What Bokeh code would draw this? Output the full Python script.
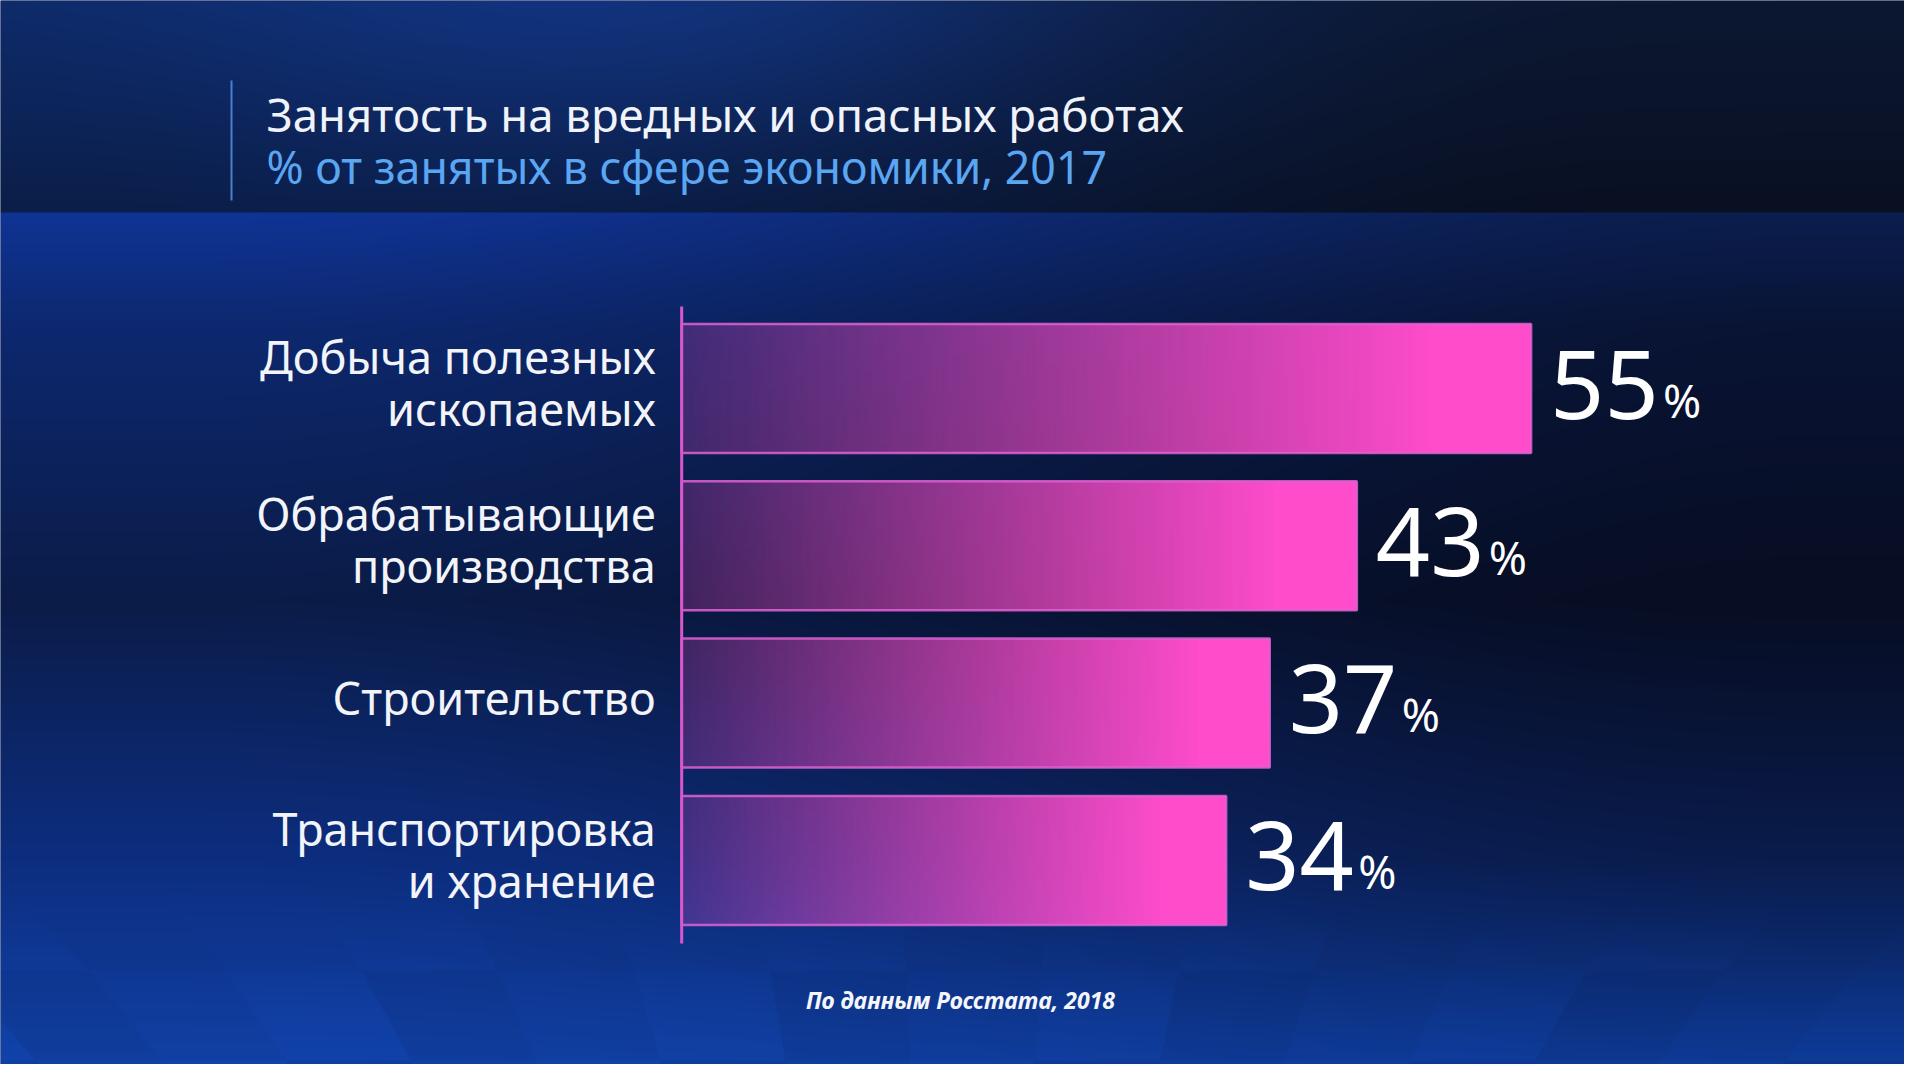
import numpy as np
from bokeh.plotting import figure
from bokeh.models import Range1d
from bokeh.core.properties import value
from bokeh.embed import file_html
from bokeh.resources import INLINE

# ---------------- data ----------------
categories = ["Добыча полезных\nископаемых",
              "Обрабатывающие\nпроизводства",
              "Строительство",
              "Транспортировка\nи хранение"]
values = [55, 43, 37, 34]
value_labels = ["55", "43", "37", "34"]
unit_labels = ["%", "%", "%", "%"]
title_text = "Занятость на вредных и опасных работах"
subtitle_text = "% от занятых в сфере экономики, 2017"
source_text = "По данным Росстата, 2018"

# ---------------- layout ----------------
W, H = 1904, 1064
OFF = 0.0
X0, XS = 732.0, 14.52      # reference px of value 0, px per percent
Y0, YS = 388.0, 157.3      # reference px of first row centre, px per row
BAR_BASE = -3.5            # bars start a little left of zero (as in the original)
BAR_H = 0.82
FONT = value("Noto Sans")


def dx(X):
    return (X - X0) / XS


def dy(Y):
    return (Y0 - Y) / YS


x_start, x_end = dx(OFF), dx(OFF + W)
y_start, y_end = dy(OFF + H), dy(OFF)
ypos = [-i for i in range(len(categories))]

p = figure(width=W, height=H, output_backend="svg", toolbar_location=None,
           x_range=Range1d(x_start, x_end), y_range=Range1d(y_start, y_end),
           x_axis_type=None, y_axis_type=None, min_border=0,
           outline_line_color=None, background_fill_color="#0b1a45",
           border_fill_color="#0b1a45")
p.grid.visible = False

# ---------------- background ----------------
nx, ny = W // 2, H // 2
Xs = OFF + (np.arange(nx) + 0.5) * W / nx
Ys = OFF + (np.arange(ny) + 0.5) * H / ny
XX, YY = np.meshgrid(Xs, Ys)


def smooth(t):
    t = np.clip(t, 0, 1)
    return t * t * (3 - 2 * t)


tx = smooth((XX / 1920 - 0.15) / 0.7)[..., None]
ty = np.clip(YY / 212, 0, 1)[..., None]
L0 = np.array([14, 42, 104.]); L1 = np.array([11, 30, 72.])
R0 = np.array([12, 24, 50.]); R1 = np.array([9, 16, 34.])
left = L0 + (L1 - L0) * ty
right = R0 + (R1 - R0) * ty
head = left + (right - left) * tx
spot = np.exp(-((XX - 700) / 450) ** 2 - (YY / 160) ** 2)[..., None]
head = head + spot * np.array([4, 12, 30.])

Yk = [212, 330, 600, 860, 1080]
lc = np.array([[16, 52, 150], [13, 40, 110], [11, 28, 72], [13, 46, 128], [17, 66, 168]], float)
rc = np.array([[11, 30, 78], [9, 20, 52], [7, 13, 34], [10, 28, 76], [14, 60, 155]], float)
low_l = np.stack([np.interp(YY, Yk, lc[:, c]) for c in range(3)], axis=-1)
low_r = np.stack([np.interp(YY, Yk, rc[:, c]) for c in range(3)], axis=-1)
tl = smooth((XX / 1920 - 0.1) / 0.85)[..., None]
low = low_l + (low_r - low_l) * tl

# very faint "floor" columns near the bottom
floor = smooth((YY - 880) / 140)
persp = (XX - 960) * (1 + (YY - 880) / 900)
cols = np.floor((persp + 960) / 150)
rows = np.floor((YY - 880) / 90)
tile = (((cols + rows) % 3) - 1)
low = low * (1 + 0.035 * (tile * floor))[..., None]

rgb = np.where((YY < 212)[..., None], head, low)
rgb = np.clip(rgb, 0, 255).astype(np.uint8)[::-1]
bg = np.empty((ny, nx), dtype=np.uint32)
v = bg.view(dtype=np.uint8).reshape((ny, nx, 4))
v[..., :3] = rgb
v[..., 3] = 255
p.image_rgba(image=[bg], x=x_start, y=y_start, dw=x_end - x_start, dh=y_end - y_start)


# ---------------- bars ----------------
def bar_gradient(n=256):
    img = np.empty((1, n), dtype=np.uint32)
    vv = img.view(dtype=np.uint8).reshape((1, n, 4))
    t = np.linspace(0, 1, n)
    vv[0, :, 0] = 255
    vv[0, :, 1] = 76
    vv[0, :, 2] = 203
    vv[0, :, 3] = (np.clip(0.22 + 0.88 * t, 0, 1) * 255).astype(np.uint8)
    return img


p.image_rgba(image=[bar_gradient() for _ in values],
             x=[BAR_BASE] * len(values),
             y=[y - BAR_H / 2 for y in ypos],
             dw=[val - BAR_BASE for val in values],
             dh=[BAR_H] * len(values))
p.quad(left=[BAR_BASE] * len(values), right=values,
       top=[y + BAR_H / 2 for y in ypos], bottom=[y - BAR_H / 2 for y in ypos],
       fill_alpha=0, line_color="#e062d4", line_width=2.5, line_alpha=0.85)

# axis line
p.segment(x0=[BAR_BASE], y0=[dy(306)], x1=[BAR_BASE], y1=[dy(943)],
          line_color="#d858cc", line_width=3)

# category labels
p.text(x=[BAR_BASE] * len(categories), y=ypos, text=categories,
       x_offset=-26, y_offset=-6, text_align="right", text_baseline="middle",
       text_font=FONT, text_font_size="45px", text_color="#f2f4fa",
       text_line_height=0.85)

# value labels
p.text(x=values, y=ypos, text=value_labels, x_offset=19, y_offset=-4,
       text_align="left", text_baseline="middle",
       text_font=FONT, text_font_size="95px", text_color="#ffffff")
p.text(x=values, y=ypos, text=unit_labels, x_offset=132, y_offset=11,
       text_align="left", text_baseline="middle",
       text_font=FONT, text_font_size="46px", text_color="#ffffff")

# header
p.segment(x0=[dx(231)], y0=[dy(80)], x1=[dx(231)], y1=[dy(200)],
          line_color="#4a7fcf", line_width=2)
p.text(x=[dx(266)], y=[dy(113)], text=[title_text], text_align="left",
       text_baseline="middle", text_font=FONT, text_font_size="45.5px",
       text_color="#f0f3fa")
p.text(x=[dx(266)], y=[dy(166)], text=[subtitle_text], text_align="left",
       text_baseline="middle", text_font=FONT, text_font_size="44.7px",
       text_color="#5aa6f2")

# footer
p.text(x=[dx(960)], y=[dy(999)], text=[source_text], text_align="center",
       text_baseline="middle", text_font=FONT, text_font_size="23px",
       text_font_style="bold italic", text_color="#f4f6fb")

open("out.html", "w").write(file_html(p, INLINE))
